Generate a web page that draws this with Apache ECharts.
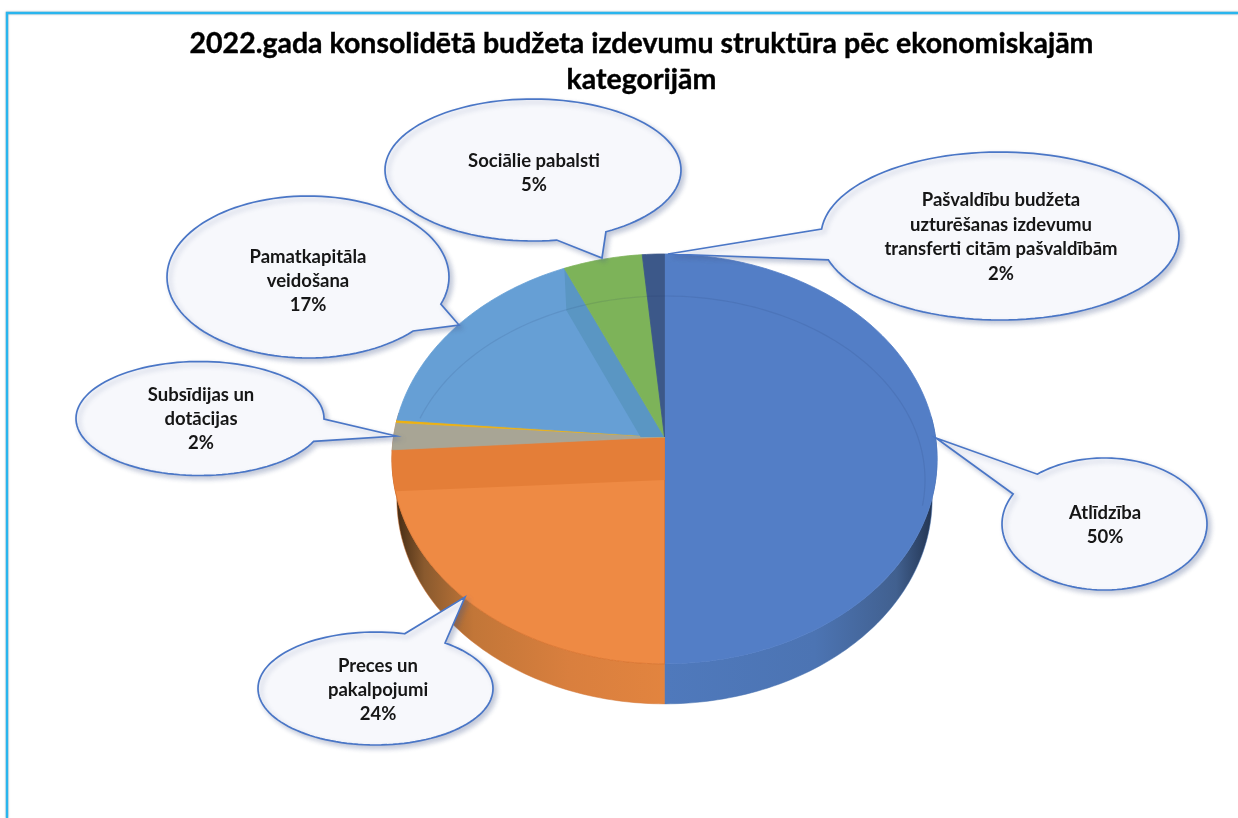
<!DOCTYPE html>
<html>
<head>
<meta charset="utf-8">
<style>
  html, body { margin: 0; padding: 0; background: #fff; }
  #chart { width: 1238px; height: 818px; }
</style>
<script src="https://cdn.jsdelivr.net/npm/echarts@6/dist/echarts.min.js"></script>
</head>
<body>
<div id="chart"></div>
<script>
const titleLines = ['2022.gada konsolidētā budžeta izdevumu struktūra pēc ekonomiskajām', 'kategorijām']

// clockwise from 12 o'clock, shares in percent
const categories = ['Atlīdzība', 'Preces un pakalpojumi', 'Subsīdijas un dotācijas', 'Pārējie', 'Pamatkapitāla veidošana', 'Sociālie pabalsti', 'Pašvaldību budžeta uzturēšanas izdevumu transferti citām pašvaldībām']
const shares = [50, 24, 2.15, 0.2, 17, 5.2, 1.45]
const percentLabels = ['50%', '24%', '2%', '', '17%', '5%', '2%']
const calloutLines = [
  ['Atlīdzība'],
  ['Preces un', 'pakalpojumi'],
  ['Subsīdijas un', 'dotācijas'],
  [],
  ['Pamatkapitāla', 'veidošana'],
  ['Sociālie pabalsti'],
  ['Pašvaldību budžeta', 'uzturēšanas izdevumu', 'transferti citām pašvaldībām']
]
const colors = ['#537EC6', '#EE8A44', '#A8A595', '#EDB111', '#669FD5', '#7DB359', '#3C5889']

// tilted disc: apex of the slices sits above the middle of the ellipse
const apexX = 664.5, apexY = 437, halfW = 271, kY = 202.6, persp = -0.107, depth = 40, lowScale = 0.982

function project(angle) {
  const x = Math.sin(angle), y = -Math.cos(angle)
  const w = 1 + persp * y
  return [apexX + halfW * x / w, apexY + kY * y / w]
}

function arc(a0, a1) {
  const pts = []
  const n = Math.max(2, Math.ceil(Math.abs(a1 - a0) / 0.02))
  for (let i = 0; i <= n; i++) pts.push(project(a0 + (a1 - a0) * i / n))
  return pts
}

const total = shares.reduce((s, v) => s + v, 0)
const startAngles = []
shares.reduce((s, v, i) => { startAngles[i] = s; return s + v }, 0)
const toAngle = v => v / total * Math.PI * 2

function wallFill(idx) {
  if (idx === 0) {
    return new echarts.graphic.LinearGradient(0, 0, 1, 0, [
      { offset: 0, color: '#4F79BC' }, { offset: 0.55, color: '#4C74B3' },
      { offset: 0.85, color: '#41608F' }, { offset: 1, color: '#1F2F4A' }
    ])
  }
  return new echarts.graphic.LinearGradient(0, 0, 1, 0, [
    { offset: 0, color: '#3A2410' }, { offset: 0.12, color: '#8A5A2E' },
    { offset: 0.3, color: '#C27638' }, { offset: 0.65, color: '#D97F3E' }, { offset: 1, color: '#E2843F' }
  ])
}

// darker facets of a slice, built from the slice's own corners
function facets(idx, a0, a1) {
  const e = project(a1)
  const A = [apexX, apexY]
  if (idx === 1) return [{ pts: [A].concat(arc(a1, a1 - 0.2)).concat([[A[0], A[1] + 43]]), fill: '#E47E38' }]
  if (idx === 4) return [{ pts: [e, A, [A[0] - 24, A[1]], [e[0] + 2, e[1] + 42]], fill: '#5A96C3' }]
  if (idx === 5) return [{ pts: [e, A, [e[0] + 8, e[1] + 48]], fill: '#6BA348' }]
  return []
}

function renderWall(params, api) {
  const idx = api.value(0)
  const a0 = toAngle(startAngles[idx]), a1 = toAngle(startAngles[idx] + shares[idx])
  // only the front half of the disc shows its side
  const from = Math.max(a0, Math.PI / 2 - 0.1), to = Math.min(a1, Math.PI * 1.5 + 0.12)
  if (to <= from) return { type: 'group', children: [] }
  const low = arc(to, from).map(p => [apexX + (p[0] - apexX) * lowScale, p[1] + depth])
  return {
    type: 'polygon',
    shape: { points: arc(from, to).concat(low) },
    style: { fill: wallFill(idx), stroke: idx === 0 ? '#4670AE' : '#D2793A', lineWidth: 0.5 }
  }
}

function renderSlice(params, api) {
  const idx = api.value(0)
  const a0 = toAngle(startAngles[idx]), a1 = toAngle(startAngles[idx] + shares[idx])
  const children = [{
    type: 'polygon',
    shape: { points: [[apexX, apexY]].concat(arc(a0, a1)) },
    style: { fill: colors[idx], stroke: idx === 1 ? '#D9742F' : colors[idx], lineWidth: 0.8 }
  }]
  facets(idx, a0, a1).forEach(f => {
    children.push({ type: 'polygon', shape: { points: f.pts }, style: { fill: f.fill } })
  })
  return { type: 'group', children }
}

// faint inner rim line that runs across the top of the disc
function renderRim() {
  const pts = []
  for (let t = -2.8; t <= 0.16; t += 0.02) {
    pts.push([665 + 260 * Math.cos(t), 480 + 184 * Math.sin(t)])
  }
  return {
    type: 'polyline',
    shape: { points: pts },
    style: { stroke: 'rgba(30,50,90,0.11)', fill: 'none', lineWidth: 1.2 }
  }
}

// speech bubbles: ellipse cx, cy, rx, ry, pointer tip, two base points
const bubbles = {
  0: { c: [1104.5, 524, 102.5, 66], tip: [936, 438], b: [[1037, 474], [1013, 494]], text: [1105, 525] },
  1: { c: [375.5, 688.5, 117.5, 56.5], tip: [465, 597], b: [[405, 633], [445, 643]], text: [378, 690] },
  2: { c: [200, 418.5, 124, 57], tip: [396, 436], b: [[322, 419], [312, 441]], text: [201, 419] },
  4: { c: [308, 277, 141, 81], tip: [459, 325], b: [[440, 304], [413, 331]], text: [308, 281] },
  5: { c: [533, 170, 148, 71], tip: [602, 258], b: [[605, 231], [556, 238]], text: [534, 173] },
  6: { c: [1000, 236, 179, 84], tip: [668, 254], b: [[828, 260], [820, 229]], text: [1001, 237] }
}

function bubblePoints(b) {
  const [cx, cy, rx, ry] = b.c
  const t0 = Math.atan2((b.b[0][1] - cy) / ry, (b.b[0][0] - cx) / rx)
  const t1 = Math.atan2((b.b[1][1] - cy) / ry, (b.b[1][0] - cx) / rx)
  // walk the long way round from the first base point to the second
  const pts = []
  let d = t1 - t0
  if (Math.abs(d) < Math.PI) d = d > 0 ? d - Math.PI * 2 : d + Math.PI * 2
  for (let i = 0; i <= 120; i++) {
    const t = t0 + d * i / 120
    pts.push([cx + rx * Math.cos(t), cy + ry * Math.sin(t)])
  }
  pts.push(b.tip)
  return pts
}

function renderBubble(params, api) {
  const idx = api.value(0)
  const b = bubbles[idx]
  if (!b) return { type: 'group', children: [] }
  const lines = calloutLines[idx].concat(percentLabels[idx])
  return {
    type: 'group',
    children: [{
      type: 'polygon',
      shape: { points: bubblePoints(b) },
      style: {
        fill: '#F7F8FC', stroke: '#4A76C6', lineWidth: 1.7, lineJoin: 'miter',
        shadowBlur: 5, shadowColor: 'rgba(70,90,140,0.32)', shadowOffsetX: 3, shadowOffsetY: 3
      }
    }, {
      type: 'text',
      style: {
        x: b.text[0], y: b.text[1], text: lines.join('\n'), align: 'center', verticalAlign: 'middle',
        font: 'bold 18.5px Lato', lineHeight: 24.4, fill: '#161616'
      }
    }]
  }
}

const rows = categories.map((c, i) => [i, shares[i], c])
const chart = echarts.init(document.getElementById('chart'), null, { renderer: 'canvas' })
chart.setOption({
  animation: false,
  backgroundColor: '#fff',
  title: {
    text: titleLines.join('\n'),
    left: 636.5, top: 21, textAlign: 'center',
    textStyle: { fontFamily: 'Lato', fontWeight: 'bold', fontSize: 28.5, lineHeight: 36, color: '#000', textBorderColor: '#000', textBorderWidth: 0.4 }
  },
  graphic: [
    { type: 'polyline', z: 1, shape: { points: [[7, 818], [7, 13], [1238, 13]] }, style: { stroke: '#29B5EE', lineWidth: 2.4, fill: 'none', shadowBlur: 2, shadowColor: 'rgba(120,120,120,0.6)' } }
  ],
  series: [
    { type: 'custom', coordinateSystem: 'none', data: rows, renderItem: renderWall, z: 2, silent: true },
    { type: 'custom', coordinateSystem: 'none', data: rows, renderItem: renderSlice, z: 3, silent: true },
    { type: 'custom', coordinateSystem: 'none', data: [[0]], renderItem: renderRim, z: 4, silent: true },
    { type: 'custom', coordinateSystem: 'none', data: rows, renderItem: renderBubble, z: 5, silent: true }
  ]
})
</script>
</body>
</html>
